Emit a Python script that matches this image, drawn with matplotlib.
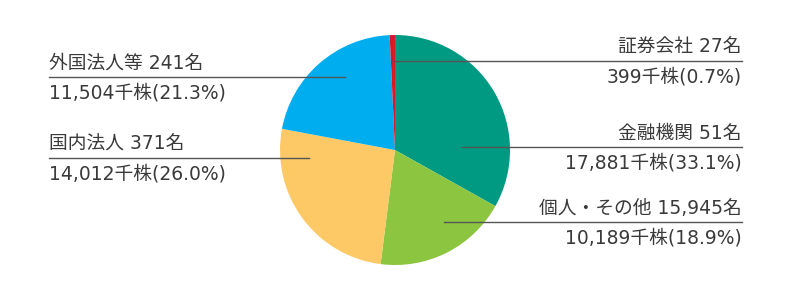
import matplotlib.pyplot as plt

plt.rcParams['font.family'] = ['DejaVu Sans', 'Noto Sans CJK JP']

# clockwise from 12 o'clock
categories = ['金融機関', '個人・その他', '国内法人', '外国法人等', '証券会社']
holders = ['51', '15,945', '371', '241', '27']
shares = [17881, 10189, 14012, 11504, 399]  # 千株
percents = ['33.1', '18.9', '26.0', '21.3', '0.7']
colors = ['#009a82', '#8cc540', '#fdc966', '#00adee', '#d7182a']

# label layout: side, line y (px from top), line start x inside the pie
layout = {
    '証券会社': ('right', 61, 393),
    '金融機関': ('right', 147, 462),
    '個人・その他': ('right', 222, 444),
    '外国法人等': ('left', 77, 345),
    '国内法人': ('left', 158, 309),
}

fig = plt.figure(figsize=(8, 3), dpi=100)
ax = fig.add_axes([0, 0, 1, 1])

ax.pie(shares, colors=colors, startangle=90, counterclock=False,
       center=(395, 150), radius=115, wedgeprops={'linewidth': 0})

txt_color = '#3a3a3a'
fs = 13.5
for i, cat in enumerate(categories):
    side, ly, x0 = layout[cat]
    y = 300 - ly
    line1 = f'{cat} {holders[i]}名'
    line2 = f'{shares[i]:,}千株({percents[i]}%)'
    if side == 'right':
        x_end = 742
        ax.plot([x0, x_end], [y, y], color='#555555', lw=1)
        ax.text(x_end, y + 14, line1, ha='right', va='center', fontsize=fs, color=txt_color)
        ax.text(x_end, y - 16, line2, ha='right', va='center', fontsize=fs, color=txt_color)
    else:
        x_end = 49
        ax.plot([x_end, x0], [y, y], color='#555555', lw=1)
        ax.text(x_end, y + 14, line1, ha='left', va='center', fontsize=fs, color=txt_color)
        ax.text(x_end, y - 16, line2, ha='left', va='center', fontsize=fs, color=txt_color)

ax.set_xlim(0, 800)
ax.set_ylim(0, 300)
ax.set_aspect('equal')
ax.axis('off')

fig.savefig('out.png', dpi=100)
